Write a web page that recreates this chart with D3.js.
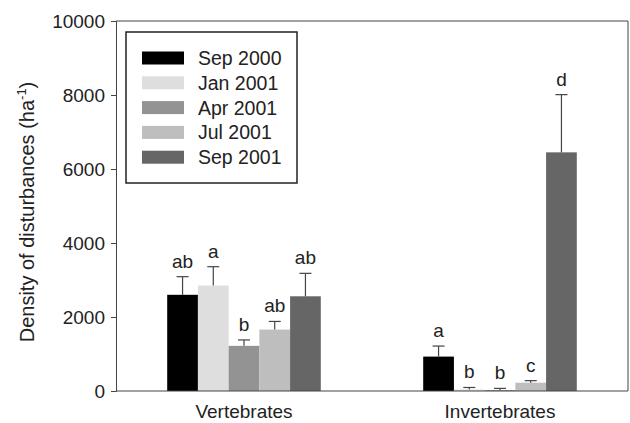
<!DOCTYPE html>
<html>
<head>
<meta charset="utf-8" />
<script src="https://cdn.jsdelivr.net/npm/d3@7"></script>
<style>
  body { margin: 0; background: #fff; }
  text { font-family: "Liberation Sans", Arial, sans-serif; fill: #222; }
</style>
</head>
<body>
<script>
var groups = ["Vertebrates", "Invertebrates"];
var series = ["Sep 2000", "Jan 2001", "Apr 2001", "Jul 2001", "Sep 2001"];
var colors = ["#000000", "#dedede", "#939393", "#bebebe", "#666666"];

// mean and upper error per group, in the series order
var vertMeans = [2600, 2850, 1220, 1660, 2560];
var vertErr   = [3090, 3360, 1380, 1880, 3180];
var vertLetters = ["ab", "a", "b", "ab", "ab"];
var invMeans = [930, 40, 25, 225, 6450];
var invErr   = [1215, 95, 70, 280, 8010];
var invLetters = ["a", "b", "b", "c", "d"];
var yTicks = [0, 2000, 4000, 6000, 8000, 10000];

var rows = [];
groups.forEach(function(g, gi) {
  var m = gi == 0 ? vertMeans : invMeans;
  var e = gi == 0 ? vertErr : invErr;
  var l = gi == 0 ? vertLetters : invLetters;
  series.forEach(function(s, si) {
    rows.push({ group: g, series: s, color: colors[si], mean: m[si], err: e[si], letter: l[si] });
  });
});

var W = 630, H = 423;
var mLeft = 116, mRight = 628, mTop = 21, mBottom = 391;
var fs = "19px";

var svg = d3.select("body").append("svg")
  .attr("width", W)
  .attr("height", H);

var x = d3.scaleBand().domain(groups).range([mLeft, mRight]).paddingInner(0.4).paddingOuter(0.2);
var xs = d3.scaleBand().domain(series).range([0, x.bandwidth()]);
var y = d3.scaleLinear().domain([0, 10000]).range([mBottom, mTop]);

function cx(d) { return x(d.group) + xs(d.series) + xs.bandwidth() / 2; }

// bars
svg.selectAll("rect.bar")
  .data(rows)
  .enter()
  .append("rect")
  .attr("class", "bar")
  .attr("x", function(d){ return x(d.group) + xs(d.series); })
  .attr("y", function(d){ return y(d.mean); })
  .attr("width", xs.bandwidth())
  .attr("height", function(d){ return y(0) - y(d.mean); })
  .attr("fill", function(d){ return d.color; });

// error bars (upper only)
var eb = svg.selectAll("g.err")
  .data(rows)
  .enter()
  .append("g")
  .attr("class", "err")
  .attr("stroke", "#444")
  .attr("stroke-width", 1.2);
eb.append("line")
  .attr("x1", cx)
  .attr("x2", cx)
  .attr("y1", function(d){ return y(d.mean); })
  .attr("y2", function(d){ return y(d.err); });
eb.append("line")
  .attr("x1", function(d){ return cx(d) - 6; })
  .attr("x2", function(d){ return cx(d) + 6; })
  .attr("y1", function(d){ return y(d.err); })
  .attr("y2", function(d){ return y(d.err); });

// significance letters
svg.selectAll("text.letter")
  .data(rows)
  .enter()
  .append("text")
  .attr("class", "letter")
  .attr("x", cx)
  .attr("y", function(d){ return y(d.err) - 9; })
  .attr("text-anchor", "middle")
  .attr("font-size", fs)
  .text(function(d){ return d.letter; });

// axes
var yAxis = svg.append("g")
  .attr("transform", "translate(" + mLeft + ",0)")
  .call(d3.axisLeft(y).tickValues(yTicks).tickSize(5).tickPadding(6).tickFormat(d3.format("d")));
yAxis.selectAll("text").attr("font-size", fs).attr("font-family", "Liberation Sans, Arial, sans-serif").attr("fill", "#222");

var xAxis = svg.append("g")
  .attr("transform", "translate(0," + mBottom + ")")
  .call(d3.axisBottom(x).tickSize(0).tickPadding(14));
xAxis.selectAll("text").attr("font-size", fs).attr("font-family", "Liberation Sans, Arial, sans-serif").attr("fill", "#222");
xAxis.select(".domain").attr("d", "M" + mLeft + ",0H" + mRight);

[yAxis, xAxis].forEach(function(a){ a.selectAll("line, path").attr("stroke", "#444"); });

// top and right frame lines
svg.append("line").attr("x1", mLeft).attr("x2", mRight).attr("y1", mTop).attr("y2", mTop).attr("stroke", "#444");
svg.append("line").attr("x1", mRight).attr("x2", mRight).attr("y1", mTop).attr("y2", mBottom).attr("stroke", "#444");

// y title, centred on its measured length
var yt = svg.append("text")
  .attr("font-size", "20px");
yt.append("tspan").text("Density of disturbances (ha");
yt.append("tspan").attr("dy", -8).attr("font-size", "13px").text("-1");
yt.append("tspan").attr("dy", 8).text(")");
var bb = yt.node().getBBox();
yt.attr("transform", "translate(34," + (212 + bb.x + bb.width / 2) + ") rotate(-90)");

// legend
var lg = svg.append("g");
lg.append("rect")
  .attr("x", 126).attr("y", 32).attr("width", 171).attr("height", 151)
  .attr("fill", "#fff").attr("stroke", "#222").attr("stroke-width", 1.5);
var item = lg.selectAll("g.item")
  .data(series)
  .enter()
  .append("g")
  .attr("class", "item")
  .attr("transform", function(d, i){ return "translate(142," + (58 + i * 24.8) + ")"; });
item.append("rect")
  .attr("x", 0).attr("y", -6.5).attr("width", 42).attr("height", 13)
  .attr("fill", function(d, i){ return colors[i]; });
item.append("text")
  .attr("x", 56).attr("y", 7)
  .attr("font-size", "19.5px")
  .text(function(d){ return d; });
</script>
</body>
</html>
